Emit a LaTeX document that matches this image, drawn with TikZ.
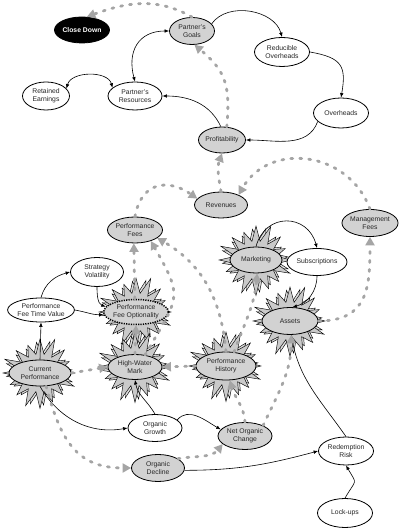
\documentclass[tikz,border=0pt]{standalone}
\usepackage{fontspec}
\setmainfont{Liberation Sans}
\usetikzlibrary{shapes.geometric,arrows.meta}
\definecolor{ngray}{RGB}{210,210,210}
\definecolor{sgray}{RGB}{202,202,202}
\definecolor{sgrayb}{RGB}{222,222,222}
\definecolor{dgray}{RGB}{165,165,165}
\newcommand{\nodefont}{\fontsize{6.8}{7.6}\selectfont}
\newcommand{\burstshape}[4]{%
  \draw[line width=0.45pt, fill=#4, shift={(#1)}]
    plot[samples at={0,...,31}, variable=\k]
    ({(mod(\k,2)==0 ? #3*(1+0.1*sin(137*\k)) : 21)*cos(11.25*\k+#2)},
     {(mod(\k,2)==0 ? (#3-2)*(1+0.1*sin(137*\k)) : 19)*sin(11.25*\k+#2)}) -- cycle;}
\tikzset{
  nd/.style={ellipse, draw, line width=0.8pt, inner sep=0pt, align=center, font=\nodefont, text=black!85},
  gnd/.style={nd, fill=ngray},
  wnd/.style={nd, fill=white},
  sz/.style 2 args={minimum width=#1pt, minimum height=#2pt},
  sol/.style={draw=black, line width=0.6pt, -{Latex[length=4.5pt,width=3.6pt]}},
  soltwo/.style={draw=black, line width=0.6pt, {Latex[length=4.5pt,width=3.6pt]}-{Latex[length=4.5pt,width=3.6pt]}},
  dsh/.style={draw=dgray, line width=2.8pt, line cap=round, dash pattern=on 2pt off 7pt, -{Triangle[length=8.5pt,width=9pt]}}
}
\begin{document}
\begin{tikzpicture}[x=1pt,y=1pt]
\useasboundingbox (0,0) rectangle (400,529);
% centres of the starburst nodes
\coordinate (cMkt) at (256,269);
\coordinate (cAss) at (290,208);
\coordinate (cPfo) at (136,217);
\coordinate (cCur) at (40,156);
\coordinate (cHwm) at (135,162);
\coordinate (cPh)  at (226,163);
% starbursts
\foreach \c in {cMkt,cAss,cPfo,cCur,cHwm,cPh}{
  \burstshape{\c}{6}{32}{sgrayb}
  \burstshape{\c}{0}{35}{sgray}
}
% nodes
\node[nd, fill=black, text=white, font=\nodefont\bfseries, sz={54}{26}] (close) at (82,499) {Close Down};
\node[gnd, sz={45}{27}] (goals) at (192,498) {Partner's\\Goals};
\node[wnd, sz={55}{29}] (reducible) at (282,477) {Reducible\\Overheads};
\node[wnd, sz={47}{28}] (retained) at (46,433) {Retained\\Earnings};
\node[wnd, sz={54}{28}] (resources) at (135,433) {Partner's\\Resources};
\node[wnd, sz={55}{30}] (overheads) at (341,416) {Overheads};
\node[gnd, sz={45}{26}] (profit) at (222,389) {Profitability};
\node[gnd, sz={53}{26}] (revenues) at (221,324) {Revenues};
\node[gnd, sz={46}{27}] (mgmt) at (370,306) {Management\\Fees};
\node[gnd, sz={44}{26}] (perffees) at (135,299) {Performance\\Fees};
\node[wnd, sz={53}{29}] (stratvol) at (97,257) {Strategy\\Volatility};
\node[gnd, sz={52}{26}] (marketing) at (cMkt) {Marketing};
\node[wnd, sz={60}{27}] (subs) at (317,267) {Subscriptions};
\node[wnd, sz={62}{24}] (pftv) at (41,219) {Performance\\Fee Time Value};
\node[gnd, sz={54}{25}, line width=1.5pt, dash pattern=on 1.2pt off 1.2pt] (pfo) at (cPfo) {Performance\\Fee Optionality};
\node[gnd, sz={56}{27}] (assets) at (cAss) {Assets};
\node[gnd, sz={62}{26}] (currperf) at (cCur) {Current\\Performance};
\node[gnd, sz={54}{25}] (hwm) at (cHwm) {High-Water\\Mark};
\node[gnd, sz={60}{28}] (perfhist) at (cPh) {Performance\\History};
\node[wnd, sz={54}{27}] (orggrowth) at (155,101) {Organic\\Growth};
\node[gnd, sz={54}{27}] (netorg) at (245,93) {Net Organic\\Change};
\node[gnd, sz={53}{27}] (orgdecline) at (158,61) {Organic\\Decline};
\node[wnd, sz={55}{28}] (redemption) at (346,78) {Redemption\\Risk};
\node[wnd, sz={55}{29}] (lockups) at (345,16) {Lock-ups};
% solid links
\draw[sol] (goals.20) to[out=55,in=105] (reducible.north);
\draw[sol] (reducible.east) to[out=-10,in=80,looseness=1.5] (overheads.north);
\draw[sol] (overheads.200) to[out=-110,in=0] (profit.east);
\draw[sol] (profit.95) to[out=115,in=0] (resources.east);
\draw[soltwo] (resources.north) to[out=105,in=180,looseness=1.3] (goals.west);
\draw[soltwo] (retained.20) to[out=75,in=105] (resources.160);
\draw[sol] (currperf.north) -- (pftv.south);
\draw[sol] (pftv.north) to[out=75,in=195] (stratvol.west);
\draw[sol] (pftv.east) to[out=-10,in=180] (pfo.185);
\draw[sol] (stratvol.south) to[out=-90,in=160] (pfo.170);
\draw[sol] (marketing.north) to[out=75,in=105,looseness=1.5] (subs.north);
\draw[sol] (subs.south) to[out=-90,in=15] (assets.80);
\draw[sol] (currperf.south) to[out=-60,in=190] (orggrowth.west);
\draw[sol] (orggrowth.north) to[out=120,in=-80] (hwm.south);
\draw[sol] (orggrowth.20) to[out=50,in=150] (netorg.165);
\draw[sol] (orgdecline.-5) to[out=0,in=195] (redemption.west);
\draw[sol] (redemption.north) to[out=125,in=-80] (assets.-85);
\draw[sol] (lockups.north) to[out=60,in=-60,looseness=1.8] (redemption.south);
% dashed links
\draw[dsh] (goals.north) to[out=150,in=20] (close.70);
\draw[dsh] (profit.70) to[out=85,in=-40,looseness=1.2] (goals.-80);
\draw[dsh] (revenues.north) to[out=100,in=-110] (profit.south);
\draw[dsh] (perffees.north) to[out=80,in=145,looseness=1.4] (revenues.165);
\draw[dsh] (mgmt.north) to[out=110,in=60,looseness=1.2] (revenues.30);
\draw[dsh] (pfo.95) -- (perffees.-95);
\draw[dsh] (perfhist.north) to[out=95,in=-30] (perffees.-20);
\draw[dsh] (hwm.50) to[out=60,in=-60,looseness=1.5] (perffees.-35);
\draw[dsh] (hwm.north) -- (pfo.south);
\draw[dsh] (currperf.east) -- (hwm.west);
\draw[dsh] (perfhist.west) -- (hwm.east);
\draw[dsh] (currperf.-65) to[out=-75,in=180,looseness=1.2] (orgdecline.west);
\draw[dsh] (orgdecline.25) to[out=10,in=-130] (netorg.200);
\draw[dsh] (netorg.north) to[out=95,in=-75] (perfhist.-75);
\draw[dsh] (netorg.30) to[out=65,in=-90] (assets.-85);
\draw[dsh] (assets.east) to[out=0,in=-90,looseness=1.3] (mgmt.south);
\draw[dsh] (perfhist.60) to[out=70,in=-95] (marketing.-85);
\end{tikzpicture}
\end{document}
